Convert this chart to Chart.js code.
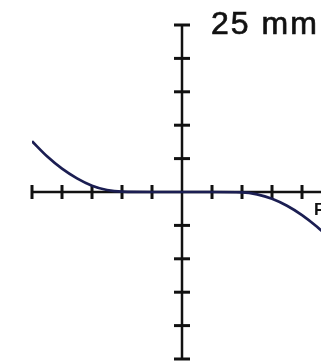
<!DOCTYPE html>
<html>
<head>
<meta charset="utf-8">
<script src="https://cdn.jsdelivr.net/npm/chart.js@4/dist/chart.umd.min.js"></script>
<style>
    html, body { margin: 0; padding: 0; background: #fff; }
    #wrap { width: 321px; height: 361px; }
</style>
</head>
<body>
<div id="wrap"><canvas id="myChart" width="321" height="361"></canvas></div>
<script>
// curve, in axis units
var curveX = [-5, -4.5, -4, -3.5, -3, -2.5, -2, -1, 0, 1, 2, 2.5, 3, 3.5, 4, 4.5, 5];
var curveY = [1.52, 1.07, 0.70, 0.41, 0.19, 0.06, 0.01, 0, 0, 0, -0.01, -0.07, -0.20, -0.41, -0.69, -1.04, -1.45];

// tick positions on both axes
var xTicks = [-5, -4, -3, -2, -1, 1, 2, 3, 4];
var yTicks = [-5, -4, -3, -2, -1, 1, 2, 3, 4, 5];

var topLabel = '25 mm';
var rightLabel = 'F';

// draws the cross-style axes through the origin, plus the labels
var crossAxes = {
    id: 'crossAxes',
    beforeDatasetsDraw: function (chart) {
        var c = chart.ctx;
        var xs = chart.scales.x;
        var ys = chart.scales.y;
        var x0 = xs.getPixelForValue(0);
        var y0 = ys.getPixelForValue(0);

        c.save();
        c.strokeStyle = '#111';
        c.lineCap = 'butt';

        // horizontal axis
        c.lineWidth = 2.5;
        c.beginPath();
        c.moveTo(xs.getPixelForValue(-5), y0);
        c.lineTo(chart.width, y0);
        c.stroke();

        // vertical axis
        c.beginPath();
        c.moveTo(x0, ys.getPixelForValue(5));
        c.lineTo(x0, ys.getPixelForValue(-5));
        c.stroke();

        c.lineWidth = 3;
        xTicks.forEach(function (v) {
            var px = xs.getPixelForValue(v);
            c.beginPath();
            c.moveTo(px, y0 - 7);
            c.lineTo(px, y0 + 7);
            c.stroke();
        });
        yTicks.forEach(function (v) {
            var py = ys.getPixelForValue(v);
            c.beginPath();
            c.moveTo(x0 - 8, py);
            c.lineTo(x0 + 8, py);
            c.stroke();
        });
        c.restore();
    },
    afterDraw: function (chart) {
        var c = chart.ctx;
        var xs = chart.scales.x;
        var ys = chart.scales.y;
        var tx = xs.getPixelForValue(0) + 29;
        var ty = ys.getPixelForValue(5) + 9;
        c.save();
        c.fillStyle = '#111';
        c.strokeStyle = '#111';
        c.textAlign = 'left';
        c.textBaseline = 'alphabetic';
        c.font = '32px "Liberation Sans", Arial, sans-serif';
        if ('letterSpacing' in c) c.letterSpacing = '2px';
        c.fillText(topLabel, tx, ty);
        // thin outline so the label reads as heavy as the axes
        c.lineWidth = 0.7;
        c.strokeText(topLabel, tx, ty);
        if ('letterSpacing' in c) c.letterSpacing = '0px';
        c.font = 'bold 17px "Liberation Sans", Arial, sans-serif';
        c.fillText(rightLabel, xs.getPixelForValue(4.4), ys.getPixelForValue(0) + 23);
        c.restore();
    }
};

var points = curveX.map(function (x, i) { return { x: x, y: curveY[i] }; });

var ctx = document.getElementById('myChart');
var myChart = new Chart(ctx, {
    type: 'line',
    data: {
        datasets: [{
            data: points,
            borderColor: '#1b1e52',
            borderWidth: 2.7,
            pointRadius: 0,
            fill: false,
            cubicInterpolationMode: 'monotone'
        }]
    },
    options: {
        responsive: false,
        animation: false,
        layout: { padding: { left: 32, right: 0, top: 25, bottom: 2 } },
        plugins: {
            legend: { display: false },
            tooltip: { enabled: false }
        },
        scales: {
            x: { type: 'linear', min: -5, max: 4.633, display: false },
            y: { type: 'linear', min: -5, max: 5, display: false }
        }
    },
    plugins: [crossAxes]
});
</script>
</body>
</html>
